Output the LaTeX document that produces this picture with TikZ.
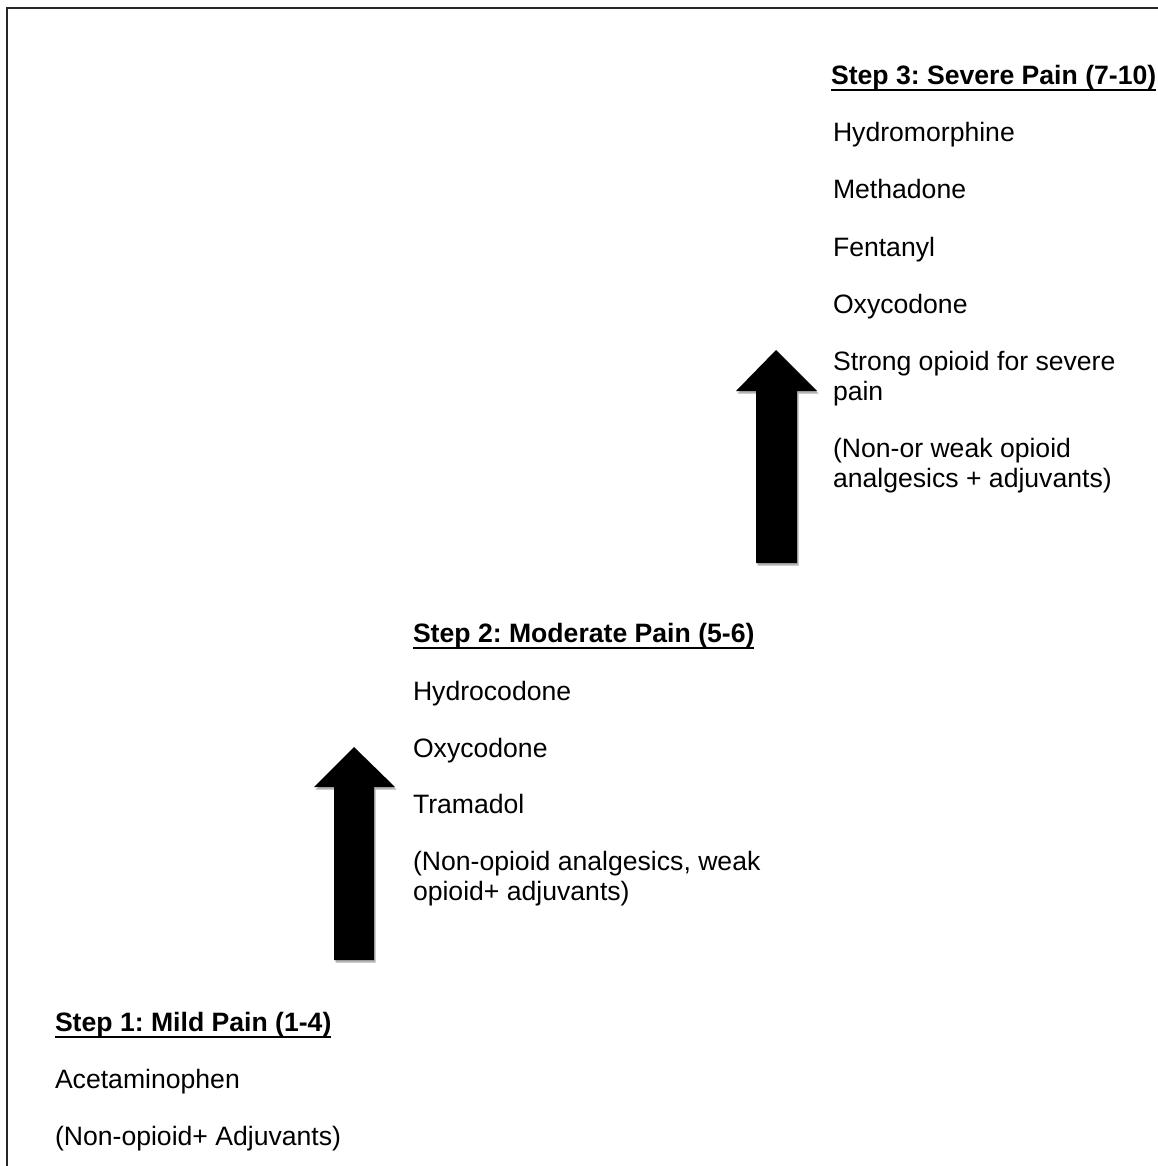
\documentclass[tikz,border=0pt]{standalone}
\usepackage{fontspec}
\setmainfont{Liberation Sans}
\usetikzlibrary{shadows}
\frenchspacing
\begin{document}
\begin{tikzpicture}[x=1pt,y=-1pt,
  txt/.style={anchor=base west,inner sep=0pt,outer sep=0pt,font=\fontsize{26.6}{30.5}\selectfont},
  head/.style={txt,font=\fontsize{26.6}{30.5}\selectfont\bfseries},
  uline/.style={line width=2pt},
  blockarrow/.style={fill=black,draw=none,drop shadow={shadow xshift=1.5pt,shadow yshift=-2.5pt,opacity=0.3,fill=black}},
  frameline/.style={line width=2.8pt,draw=black!85}]
\useasboundingbox (0,0) rectangle (1157,1166);
% frame
\draw[frameline] (7,1180) -- (7,8) -- (1170,8);
% Step 1
\node[head] (h1) at (55,1031) {Step 1: Mild Pain (1-4)};
\draw[uline] ([yshift=-5.5pt]h1.base west) -- ([yshift=-5.5pt]h1.base east);
\node[txt] (s1a) at (55,1088) {Acetaminophen};
\node[txt] (s1b) at (55,1145) {(Non-opioid+ Adjuvants)};
% Step 2
\node[head] (h2) at (413,642) {Step 2: Moderate Pain (5-6)};
\draw[uline] ([yshift=-5.5pt]h2.base west) -- ([yshift=-5.5pt]h2.base east);
\node[txt] (s2a) at (413,700) {Hydrocodone};
\node[txt] (s2b) at (413,757) {Oxycodone};
\node[txt] (s2c) at (413,813) {Tramadol};
\node[txt] (s2d) at (413,870) {(Non-opioid analgesics, weak};
\node[txt] (s2e) at (413,900) {opioid+ adjuvants)};
% Step 3
\node[head] (h3) at (831,85) {Step 3: Severe Pain (7-10)};
\draw[uline] ([yshift=-5.5pt]h3.base west) -- ([yshift=-5.5pt]h3.base east);
\node[txt] (s3a) at (833,142) {Hydromorphine};
\node[txt] (s3b) at (833,199) {Methadone};
\node[txt] (s3c) at (833,256) {Fentanyl};
\node[txt] (s3d) at (833,313) {Oxycodone};
\node[txt] (s3e) at (833,370) {Strong opioid for severe};
\node[txt] (s3f) at (833,400) {pain};
\node[txt] (s3g) at (833,457) {(Non-or weak opioid};
\node[txt] (s3h) at (833,487) {analgesics + adjuvants)};
% arrows
\path[blockarrow] (354,747) -- (395,787) -- (374,787) -- (374,960) -- (334,960) -- (334,787) -- (314,787) -- cycle;
\path[blockarrow] (776,350) -- (817,391) -- (797,391) -- (797,563) -- (756,563) -- (756,391) -- (736,391) -- cycle;
\end{tikzpicture}
\end{document}
